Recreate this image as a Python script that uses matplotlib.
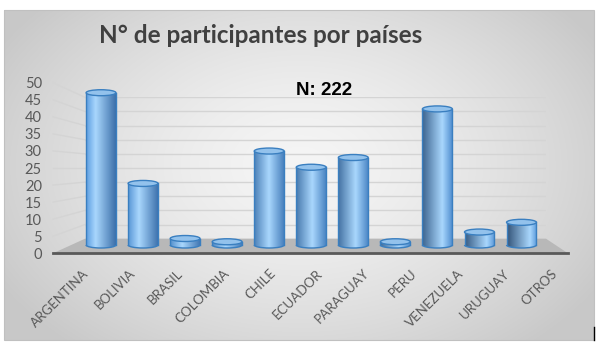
import numpy as np
import matplotlib
matplotlib.use('Agg')
import matplotlib.pyplot as plt
from matplotlib.patches import Ellipse, Polygon, Rectangle, Arc
from matplotlib.colors import to_rgb
from matplotlib.lines import Line2D
import matplotlib.transforms as mtransforms

# ---------------- data ----------------
categories = ['ARGENTINA', 'BOLIVIA', 'BRASIL', 'COLOMBIA', 'CHILE', 'ECUADOR',
              'PARAGUAY', 'PERU', 'VENEZUELA', 'URUGUAY', 'OTROS']
values = [47, 19, 2, 1, 29, 24, 27, 1, 42, 4, 7]
y_ticks = [0, 5, 10, 15, 20, 25, 30, 35, 40, 45, 50]
title = 'N° de participantes por países'
note = 'N: 222'

W, H = 598, 351
fig = plt.figure(figsize=(W / 100, H / 100), dpi=100)
fig.patch.set_facecolor('white')


def rect(l, t, r, b):
    return [l / W, 1 - b / H, (r - l) / W, (b - t) / H]


# ---------------- background ----------------
bg = fig.add_axes([0, 0, 1, 1], zorder=-3)
bg.axis('off')
yy, xx = np.mgrid[10:340, 4:594]
rr = np.sqrt(((xx - 300) / 350.0) ** 2 + ((yy - 165) / 240.0) ** 2)
rr = np.clip(rr, 0, 1) ** 1.5
c0 = np.array(to_rgb('#f5f5f5'))
c1 = np.array(to_rgb('#c8c8c8'))
img = c0[None, None, :] * (1 - rr[..., None]) + c1[None, None, :] * rr[..., None]
bg.imshow(img, extent=[4, 594, 340, 10], aspect='auto', interpolation='bilinear')
bg.add_patch(Rectangle((4, 10), 590, 330, fill=False, ec='#c0c0c0', lw=0.8))
bg.plot([594, 594], [327, 340], color='black', lw=1)
bg.set_xlim(0, W)
bg.set_ylim(H, 0)

# ---------------- back wall ----------------
wall = fig.add_axes(rect(85, 97.3, 546, 238.7), zorder=-2)
wall.set_facecolor('none')
wall.set_xlim(0, 1)
wall.set_ylim(0, 50)
wall.set_yticks(y_ticks)
wall.set_xticks([])
wall.tick_params(left=False, labelleft=False)
wall.grid(axis='y', color='#d4d4d4', lw=1)
for s in wall.spines.values():
    s.set_visible(False)

# main (front) axes for labels
ax = fig.add_axes(rect(53, 82.7, 568, 253.3), zorder=-1)
ax.set_facecolor('none')
ax.set_xlim(-0.5, 10.5)
ax.set_ylim(0, 50)

# side wall gridlines: front label level -> back wall level
to_fig = fig.transFigure.inverted()
for v in y_ticks[1:]:
    p0 = to_fig.transform(ax.transData.transform((-0.5, v)))
    p1 = to_fig.transform(wall.transData.transform((0, v)))
    wall.add_line(Line2D([p0[0], p1[0]], [p0[1], p1[1]], transform=fig.transFigure,
                         color='#d4d4d4', lw=1, clip_on=False))

# floor
fl = to_fig.transform(ax.transData.transform((-0.5, 0)))
fr = to_fig.transform(ax.transData.transform((10.5, 0)))
bl = to_fig.transform(wall.transData.transform((0, 0)))
br = to_fig.transform(wall.transData.transform((1, 0)))
wall.add_patch(Polygon([fl, bl, br, fr], closed=True, transform=fig.transFigure,
                       fc='#b8b8b8', ec='none', clip_on=False, zorder=5))

for s in ['top', 'right', 'left']:
    ax.spines[s].set_visible(False)
ax.spines['bottom'].set_color('#595959')
ax.spines['bottom'].set_linewidth(2)
ax.set_yticks(y_ticks)
ax.set_yticklabels([str(v) for v in y_ticks], fontsize=10.5, color='#595959', family='Lato')
ax.set_xticks(range(len(categories)))
ax.set_xticklabels(categories, rotation=45, ha='right', rotation_mode='anchor',
                   fontsize=9.5, color='#595959', family='Lato')
ax.tick_params(axis='y', length=0, pad=8)
ax.tick_params(axis='x', length=0, pad=10)
off = mtransforms.ScaledTranslation(6 / 100, 0, fig.dpi_scale_trans)
for lab in ax.get_xticklabels():
    lab.set_transform(lab.get_transform() + off)

# ---------------- bars (bar plane) ----------------
bax = fig.add_axes(rect(80, 83, 542.5, 251.48), zorder=1)
bax.set_facecolor('none')
bax.axis('off')
bars = bax.bar(range(len(categories)), values, width=0.71, color='none', edgecolor='none')
eh = 6 / 3.24  # ellipse height in data units


def grad_colors(t, n=64):
    left = np.array(to_rgb('#5c9de0')) * (1 - t) + np.array(to_rgb('#34557a')) * t
    right = np.array(to_rgb('#3d70aa')) * (1 - t) + np.array(to_rgb('#5c9bdc')) * t
    hi = np.array(to_rgb('#a9d7fd'))
    hp = 0.32 + 0.45 * t
    u = np.linspace(0, 1, n)
    out = np.zeros((1, n, 3))
    for k, uu in enumerate(u):
        if uu <= hp:
            f = uu / hp
            out[0, k] = left * (1 - f) + hi * f
        else:
            f = (uu - hp) / (1 - hp)
            out[0, k] = hi * (1 - f) + right * f
    return out


n = len(categories)
for i, p in enumerate(bars.patches):
    x0 = p.get_x()
    w = p.get_width()
    h = p.get_height()
    g = grad_colors(i / (n - 1))
    im = bax.imshow(g, extent=[x0, x0 + w, -eh, h], aspect='auto', interpolation='bilinear', zorder=2)
    im.set_clip_path(p)
    be = Ellipse((x0 + w / 2, 0), w, eh, transform=bax.transData, fc='none', ec='none')
    bax.add_patch(be)
    im2 = bax.imshow(g, extent=[x0, x0 + w, -eh, h], aspect='auto', interpolation='bilinear', zorder=2)
    im2.set_clip_path(be)
    bax.add_patch(Arc((x0 + w / 2, 0), w, eh, theta1=180, theta2=360, ec='#3a7fc0', lw=1, zorder=3))
    bax.plot([x0, x0], [0, h], color='#3a7fc0', lw=1, zorder=3)
    bax.plot([x0 + w, x0 + w], [0, h], color='#3a7fc0', lw=1, zorder=3)
    bax.add_patch(Ellipse((x0 + w / 2, h), w, eh, fc='#93c2ec', ec='#3a7fc0', lw=1, zorder=4))

bax.set_xlim(-0.5, 10.5)
bax.set_ylim(-2, 50)

# ---------------- texts ----------------
fig.text(261 / W, 1 - 43 / H, title, ha='center', va='baseline', fontsize=17.5,
         fontweight='bold', color='#404040', family='Lato')
fig.text(296 / W, 1 - 95 / H, note, ha='left', va='baseline', fontsize=13.5,
         fontweight='bold', color='black', family='Liberation Sans')

fig.savefig('out.png', dpi=100)
